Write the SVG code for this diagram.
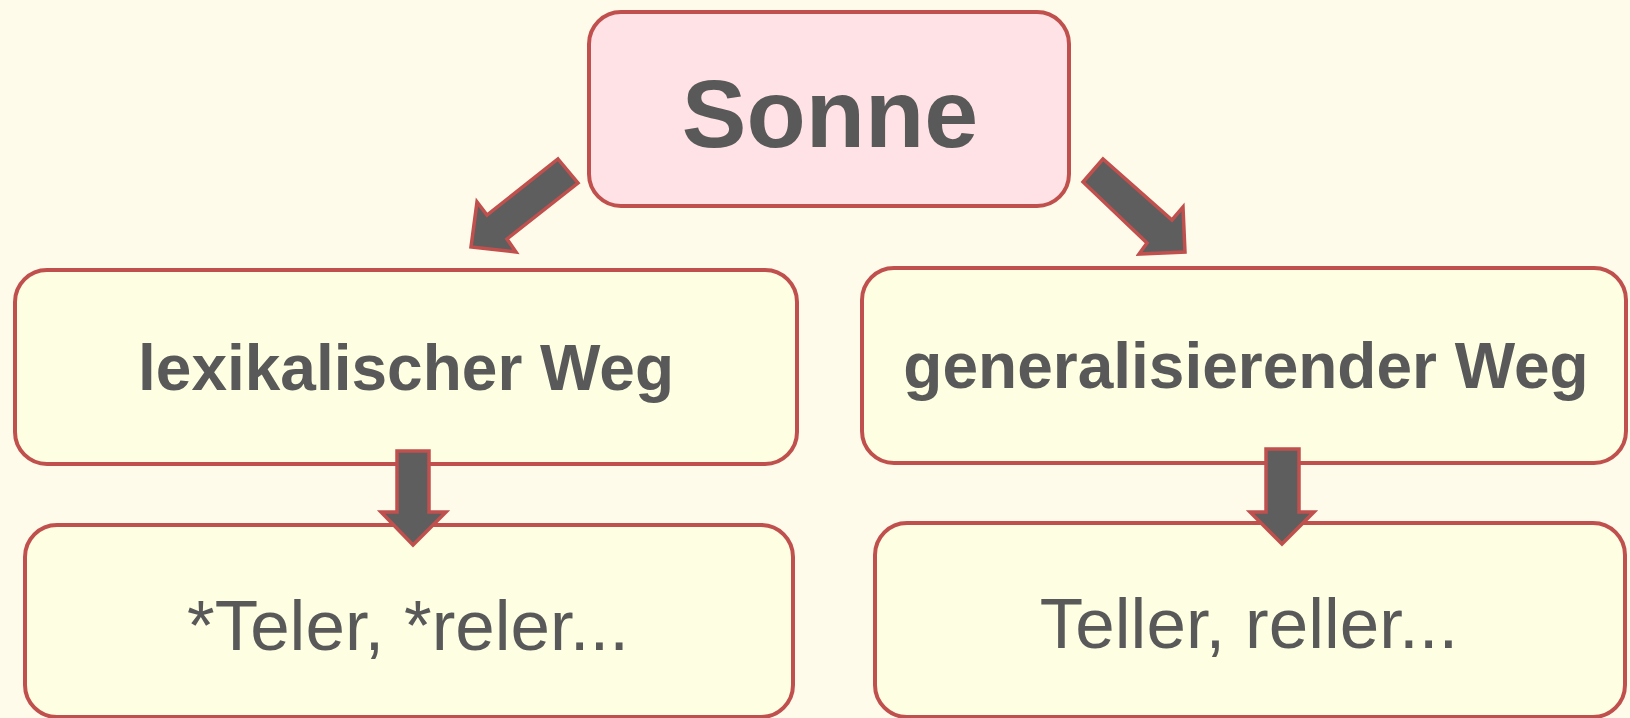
<svg xmlns="http://www.w3.org/2000/svg" width="1630" height="718" viewBox="0 0 1630 718">
<style>
.box{fill:#fefee2;stroke:#c0504d;stroke-width:4}
.top{fill:#ffe2e5;stroke:#c0504d;stroke-width:4}
.arr{fill:#5e5e5e;stroke:#c0504d;stroke-width:3.5;stroke-linejoin:miter}
text{font-family:"Liberation Sans",Arial,sans-serif;fill:#595959;text-anchor:middle}
.b{font-weight:bold}
</style>
<rect width="1630" height="718" fill="#fffbea"/>
<g id="node-sonne">
<rect class="top" x="589" y="12" width="480" height="194" rx="32"/>
<text class="b" x="830" y="147" font-size="97">Sonne</text>
</g>
<g id="node-lexikalisch">
<rect class="box" x="15" y="270" width="782" height="194" rx="32"/>
<text class="b" x="406" y="390" font-size="64">lexikalischer Weg</text>
</g>
<g id="node-generalisierend">
<rect class="box" x="862" y="268" width="764" height="195" rx="32"/>
<text class="b" x="1246" y="388" font-size="64">generalisierender Weg</text>
</g>
<g id="node-teler">
<rect class="box" x="25" y="525" width="768" height="192" rx="32"/>
<text x="408" y="650" font-size="71">*Teler, *reler...</text>
</g>
<g id="node-teller">
<rect class="box" x="875" y="523" width="750" height="194" rx="32"/>
<text x="1249" y="648" font-size="71">Teller, reller...</text>
</g>
<g id="connectors">
<polygon class="arr" points="558,159 578,183 507,239 516,252 471,247 477,202 487,215"/>
<polygon class="arr" points="1103,159 1083,182 1147,243 1139,254 1185,252 1183,207 1172,220"/>
<polygon class="arr" points="397,451 429,451 429,512 446,512 413,545 381,512 397,512"/>
<polygon class="arr" points="1266,449 1299,449 1299,512 1314,512 1282,544 1250,512 1266,512"/>
</g>
</svg>
